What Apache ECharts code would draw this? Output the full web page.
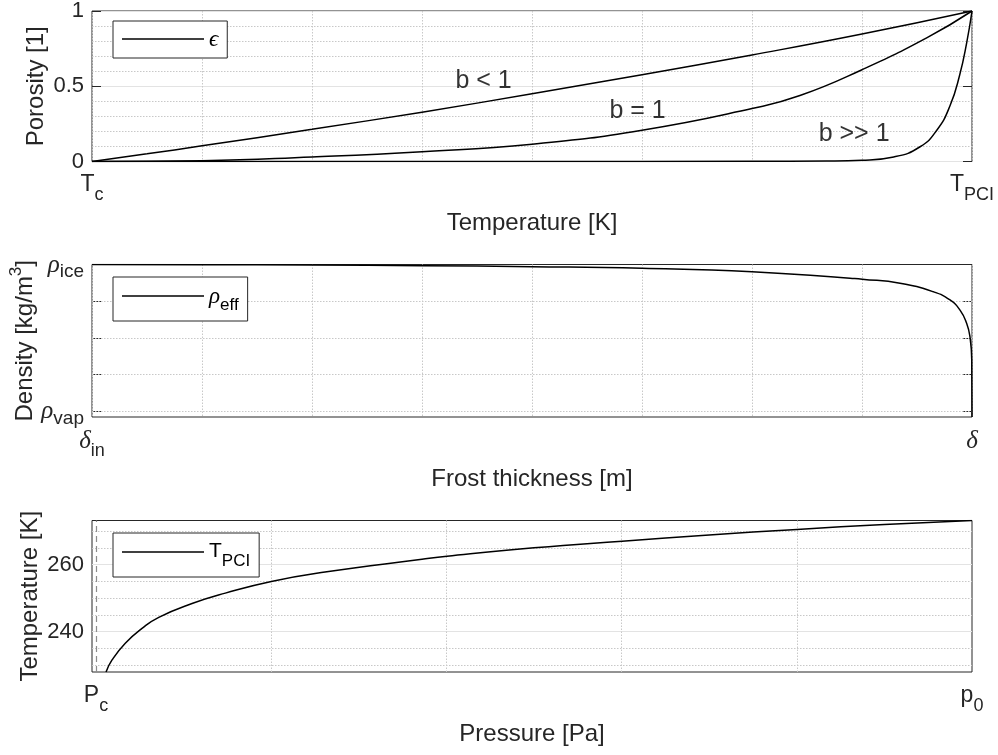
<!DOCTYPE html>
<html><head><meta charset="utf-8">
<script src="https://cdn.jsdelivr.net/npm/echarts@6/dist/echarts.min.js"></script>
<style>html,body{margin:0;padding:0;background:#fff}#chart{width:998px;height:755px}</style>
</head><body><div id="chart"></div>
<script>
// ---- data (normalised axis coordinates) ----
const bLessX = [0, 0.0625, 0.125, 0.25, 0.375, 0.5, 0.625, 0.75, 0.875, 1];
const bLessY = [0, 0.051, 0.104, 0.214, 0.328, 0.45, 0.577, 0.708, 0.847, 1];
const bOneX = [0, 0.125, 0.25, 0.375, 0.5, 0.625, 0.75, 0.8045, 0.875, 0.949, 1];
const bOneY = [0, 0.005, 0.03, 0.065, 0.115, 0.208, 0.352, 0.438, 0.61, 0.823, 1];
const bBigX = [0, 0.5, 0.75, 0.835, 0.875, 0.911, 0.941, 0.96, 0.975, 0.986, 0.994, 1];
const bBigY = [0, 0, 0.001, 0.003, 0.008, 0.03, 0.098, 0.208, 0.37, 0.575, 0.79, 1];
const annoText = ['b < 1', 'b = 1', 'b >> 1'];
const annoX = [0.445, 0.620, 0.866];
const annoY = [0.537, 0.333, 0.181];

const rhoX = [0, 0.125, 0.25, 0.375, 0.5, 0.625, 0.75, 0.8614, 0.8753, 0.9182, 0.956, 0.975, 0.9864, 0.9939, 0.9977, 0.9997, 1];
const rhoY = [1, 0.999, 0.997, 0.992, 0.985, 0.974, 0.951, 0.906, 0.9, 0.872, 0.814, 0.758, 0.689, 0.599, 0.507, 0.35, -0.04];

const pX = [0.0114, 0.0183, 0.0334, 0.0525, 0.0716, 0.1096, 0.1476, 0.2001, 0.2614, 0.3721, 0.4007, 0.5, 0.6005, 0.7, 0.8002, 0.9, 1];
const tY = [228.0, 231.6, 236.6, 241.0, 244.3, 248.4, 251.5, 255.0, 257.8, 261.6, 262.5, 265.0, 267.0, 268.85, 270.5, 271.95, 273.15];

// tick / grid values
const midYMin = -0.04;
const midYTicks = [0, 0.25, 0.5, 0.75, 1];
const midYGrid = [0, 0.25, 0.5, 0.75];
const midYLabels = [0, 1];
const botYMin = 228, botYMax = 273.15;
const botYTicks = [240, 260];
const botYMinor = [230, 235, 245, 250, 255, 265, 270];
const botXMin = -0.0046;
const botXGrid = [0.2, 0.4, 0.6, 0.8];
const botXPc = 0;
const xEnds = [0, 1];

const FONT = '"Liberation Sans", Arial, Helvetica, sans-serif';
const SERIF = '"Liberation Serif", "Times New Roman", serif';
const INK = '#262626';
const minorLine = {color: '#c8c8c8', type: [1.5, 1.5], width: 1};
const majorLine = {color: '#e3e3e3', type: 'solid', width: 1};
const pcLine = {color: '#8c8c8c', type: [6, 4], width: 1.2};

const tickRich = {
  b: {fontFamily: FONT, fontSize: 23, color: INK, verticalAlign: 'top', lineHeight: 24},
  s: {fontFamily: FONT, fontSize: 18, color: INK, verticalAlign: 'top', lineHeight: 20, padding: [13, 0, 0, 0]},
  s8: {fontFamily: FONT, fontSize: 19, color: INK, verticalAlign: 'top', lineHeight: 20, padding: [10, 0, 0, 0]},
  g: {fontFamily: SERIF, fontStyle: 'italic', fontSize: 25, color: INK, verticalAlign: 'top', lineHeight: 24}
};
const legendRich = {
  b: {fontFamily: FONT, fontSize: 21, color: '#000', verticalAlign: 'top', lineHeight: 22},
  s: {fontFamily: FONT, fontSize: 17, color: '#000', verticalAlign: 'top', lineHeight: 18, padding: [12, 0, 0, 0]},
  g: {fontFamily: SERIF, fontStyle: 'italic', fontSize: 23, color: '#000', verticalAlign: 'top', lineHeight: 22}
};
const nameStyle = {fontFamily: FONT, fontSize: 24, color: INK,
  rich: {sup: {fontFamily: FONT, fontSize: 17, color: INK, padding: [0, 0, 18, 0]}}};

const near = (a, b) => Math.abs(a - b) < 1e-6;
const zip = (xs, ys) => xs.map((x, i) => [x, ys[i]]);
const vLines = (vals, style) => vals.map(v => ({xAxis: v, lineStyle: Object.assign({}, style)}));
const hLines = (vals, style) => vals.map(v => ({yAxis: v, lineStyle: Object.assign({}, style)}));

const PL = 92, PW = 880;
const P1 = {top: 10, h: 151.5}, P2 = {top: 264.5, h: 152.5}, P3 = {top: 520.5, h: 151.5};

function xAxisTopMid(grid, l0, l1, name) {
  return {
    gridIndex: grid, type: 'value', min: 0, max: 1, interval: 0.125,
    axisLine: {show: false}, axisTick: {show: false},
    axisLabel: {show: true, showMinLabel: true, showMaxLabel: true, margin: 12,
      alignMinLabel: 'center', alignMaxLabel: 'center', hideOverlap: false,
      formatter: v => near(v, 0) ? l0 : (near(v, 1) ? l1 : ''), rich: tickRich},
    splitLine: {show: true, lineStyle: minorLine},
    name: name, nameLocation: 'middle', nameGap: 50, nameMoveOverlap: false, nameTextStyle: nameStyle
  };
}

const lineBase = {type: 'line', symbol: 'none', showSymbol: false, smooth: 0.5, z: 3,
  lineStyle: {color: '#000', width: 1.5}, itemStyle: {color: '#000'}, silent: true};
const legendBase = {orient: 'vertical', itemWidth: 82, itemHeight: 1.6, icon: 'rect', z: 10,
  borderColor: INK, borderWidth: 1, backgroundColor: '#fff', selectedMode: false,
  itemStyle: {color: '#000'}, lineStyle: {width: 0},
  textStyle: {rich: legendRich}};
const markBase = {silent: true, symbol: ['none', 'none'], label: {show: false}, animation: false,
  emphasis: {disabled: true}, z: 1};
const gridBase = {left: PL, width: PW, show: true, borderColor: INK, borderWidth: 1, backgroundColor: 'transparent'};

const option = {
  animation: false,
  backgroundColor: '#fff',
  grid: [
    Object.assign({}, gridBase, {top: P1.top, height: P1.h}),
    Object.assign({}, gridBase, {top: P2.top, height: P2.h}),
    Object.assign({}, gridBase, {top: P3.top, height: P3.h})
  ],
  xAxis: [
    xAxisTopMid(0, '{b|T}{s|c}', '{b|T}{s|PCI}', 'Temperature [K]'),
    xAxisTopMid(1, '{g|δ}{s|in}', '{g|δ}', 'Frost thickness [m]'),
    {
      gridIndex: 2, type: 'value', min: botXMin, max: 1,
      axisLine: {show: false}, axisTick: {show: false},
      axisLabel: {show: true, customValues: xEnds, margin: 12, alignMinLabel: 'center', alignMaxLabel: 'center',
        formatter: v => near(v, 0) ? '{b|P}{s|c}' : '{b|p}{s|0}', rich: tickRich},
      splitLine: {show: false},
      name: 'Pressure [Pa]', nameLocation: 'middle', nameGap: 50, nameMoveOverlap: false, nameTextStyle: nameStyle
    }
  ],
  yAxis: [
    {gridIndex: 0, type: 'value', min: 0, max: 1, interval: 0.5,
      axisLine: {show: false},
      axisTick: {show: true, inside: true, length: 9, lineStyle: {color: INK}},
      axisLabel: {fontFamily: FONT, fontSize: 22, color: INK, margin: 8},
      splitLine: {show: true, lineStyle: majorLine},
      minorTick: {show: false, splitNumber: 5},
      minorSplitLine: {show: true, lineStyle: minorLine},
      name: 'Porosity [1]', nameLocation: 'middle', nameGap: 44, nameMoveOverlap: false, nameTextStyle: nameStyle},
    {gridIndex: 0, type: 'value', min: 0, max: 1, interval: 0.5, position: 'right',
      axisLine: {show: false}, axisLabel: {show: false}, splitLine: {show: false},
      axisTick: {show: true, inside: true, length: 9, lineStyle: {color: INK}}},
    {gridIndex: 1, type: 'value', min: midYMin, max: 1,
      axisLine: {show: false},
      axisTick: {show: true, inside: true, length: 9, customValues: midYTicks, lineStyle: {color: INK}},
      axisLabel: {customValues: midYLabels, margin: 8,
        formatter: v => near(v, 1) ? '{g|ρ}{s8|ice}' : '{g|ρ}{s8|vap}', rich: tickRich},
      splitLine: {show: false},
      name: 'Density [kg/m{sup|3}]', nameLocation: 'middle', nameGap: 49, nameMoveOverlap: false, nameTextStyle: nameStyle},
    {gridIndex: 1, type: 'value', min: midYMin, max: 1, position: 'right',
      axisLine: {show: false}, axisLabel: {show: false}, splitLine: {show: false},
      axisTick: {show: true, inside: true, length: 9, customValues: midYTicks, lineStyle: {color: INK}}},
    {gridIndex: 2, type: 'value', min: botYMin, max: botYMax,
      axisLine: {show: false},
      axisTick: {show: true, inside: true, length: 9, customValues: botYTicks, lineStyle: {color: INK}},
      axisLabel: {customValues: botYTicks, fontFamily: FONT, fontSize: 22, color: INK, margin: 8},
      splitLine: {show: false},
      name: 'Temperature [K]', nameLocation: 'middle', nameGap: 50, nameMoveOverlap: false, nameTextStyle: nameStyle},
    {gridIndex: 2, type: 'value', min: botYMin, max: botYMax, position: 'right',
      axisLine: {show: false}, axisLabel: {show: false}, splitLine: {show: false},
      axisTick: {show: true, inside: true, length: 9, customValues: botYTicks, lineStyle: {color: INK}}}
  ],
  legend: [
    Object.assign({}, legendBase, {data: ['eps'], left: 113, top: 21, padding: [7, 9, 7, 9],
      formatter: () => '{g|ϵ}'}),
    Object.assign({}, legendBase, {data: ['rho'], left: 113, top: 277, padding: [8, 9, 7, 9],
      formatter: () => '{g|ρ}{s|eff}'}),
    Object.assign({}, legendBase, {data: ['tpci'], left: 113, top: 533, padding: [8, 9, 7, 9],
      formatter: () => '{b|T}{s|PCI}'})
  ],
  series: [
    Object.assign({}, lineBase, {name: 'eps', xAxisIndex: 0, yAxisIndex: 0, data: zip(bLessX, bLessY)}),
    Object.assign({}, lineBase, {name: 'eps b=1', xAxisIndex: 0, yAxisIndex: 0, data: zip(bOneX, bOneY)}),
    Object.assign({}, lineBase, {name: 'eps b>>1', xAxisIndex: 0, yAxisIndex: 0, data: zip(bBigX, bBigY)}),
    {type: 'scatter', name: 'annotations', xAxisIndex: 0, yAxisIndex: 0, symbolSize: 1, silent: true,
      itemStyle: {color: 'rgba(0,0,0,0)'},
      label: {show: true, position: 'inside', formatter: p => p.name, fontFamily: FONT, fontSize: 25, color: '#000'},
      data: annoText.map((t, i) => ({name: t, value: [annoX[i], annoY[i]]}))},
    Object.assign({}, lineBase, {name: 'rho', xAxisIndex: 1, yAxisIndex: 2, data: zip(rhoX, rhoY),
      markLine: Object.assign({}, markBase, {lineStyle: Object.assign({}, minorLine),
        data: hLines(midYGrid, minorLine)})}),
    Object.assign({}, lineBase, {name: 'tpci', xAxisIndex: 2, yAxisIndex: 4, data: zip(pX, tY),
      markLine: Object.assign({}, markBase, {lineStyle: Object.assign({}, minorLine),
        data: [].concat(
          hLines(botYMinor, minorLine),
          hLines(botYTicks, majorLine),
          vLines(botXGrid, minorLine),
          vLines([botXPc], pcLine)
        )})})
  ]
};
const chart = echarts.init(document.getElementById('chart'), null, {renderer: 'canvas'});
chart.setOption(option);
</script>
</body></html>
